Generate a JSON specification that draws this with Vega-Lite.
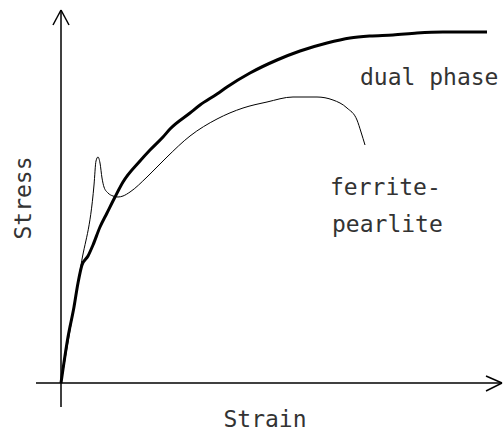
{
  "$schema": "https://vega.github.io/schema/vega-lite/v6.json",
  "width": 503,
  "height": 438,
  "padding": 0,
  "autosize": {"type": "fit", "contains": "padding"},
  "background": "white",
  "config": {"view": {"stroke": null}},
  "datasets": {
    "dual": [
      {"strain": 0, "stress": 0},
      {"strain": 7, "stress": 46},
      {"strain": 13, "stress": 76},
      {"strain": 17, "stress": 100},
      {"strain": 21, "stress": 118},
      {"strain": 27, "stress": 127},
      {"strain": 32, "stress": 138},
      {"strain": 39, "stress": 156},
      {"strain": 46, "stress": 170},
      {"strain": 54, "stress": 186},
      {"strain": 62, "stress": 201},
      {"strain": 79, "stress": 222},
      {"strain": 89, "stress": 233},
      {"strain": 102, "stress": 246},
      {"strain": 109, "stress": 254},
      {"strain": 129, "stress": 270},
      {"strain": 139, "stress": 278},
      {"strain": 156, "stress": 289},
      {"strain": 166, "stress": 296},
      {"strain": 189, "stress": 310},
      {"strain": 216, "stress": 323},
      {"strain": 239, "stress": 332},
      {"strain": 266, "stress": 340},
      {"strain": 289, "stress": 345},
      {"strain": 309, "stress": 347},
      {"strain": 332, "stress": 348},
      {"strain": 356, "stress": 350},
      {"strain": 382, "stress": 351},
      {"strain": 426, "stress": 351}
    ],
    "ferrite": [
      {"strain": 0, "stress": 0},
      {"strain": 20, "stress": 118},
      {"strain": 33, "stress": 198},
      {"strain": 35, "stress": 222},
      {"strain": 37, "stress": 226},
      {"strain": 39, "stress": 220},
      {"strain": 41, "stress": 205},
      {"strain": 43, "stress": 196},
      {"strain": 47, "stress": 190},
      {"strain": 52, "stress": 187},
      {"strain": 57, "stress": 186},
      {"strain": 62, "stress": 187},
      {"strain": 69, "stress": 191},
      {"strain": 86, "stress": 206},
      {"strain": 96, "stress": 216},
      {"strain": 106, "stress": 226},
      {"strain": 129, "stress": 247},
      {"strain": 156, "stress": 264},
      {"strain": 182, "stress": 275},
      {"strain": 206, "stress": 281},
      {"strain": 232, "stress": 286},
      {"strain": 256, "stress": 286},
      {"strain": 272, "stress": 283},
      {"strain": 286, "stress": 275},
      {"strain": 296, "stress": 263},
      {"strain": 300, "stress": 251},
      {"strain": 304, "stress": 238}
    ],
    "axes": [
      {"x": -25, "y": 0, "x2": 441, "y2": 0},
      {"x": 0, "y": 373, "x2": 0, "y2": -24},
      {"x": 0, "y": 373, "x2": -8, "y2": 358},
      {"x": 0, "y": 373, "x2": 8, "y2": 358},
      {"x": 441, "y": 0, "x2": 425, "y2": 7},
      {"x": 441, "y": 0, "x2": 425, "y2": -8}
    ],
    "labels": [
      {"label": "dual phase", "strain": 299, "stress": 305},
      {"label": "ferrite-", "strain": 269, "stress": 195},
      {"label": "pearlite", "strain": 271, "stress": 158}
    ],
    "xtitle": [{"label": "Strain", "strain": 204, "stress": -37}],
    "ytitle": [{"label": "Stress", "strain": -37, "stress": 185}]
  },
  "layer": [
    {
      "data": {"name": "axes"},
      "mark": {"type": "rule", "color": "black", "strokeWidth": 1.5},
      "encoding": {
        "x": {"field": "x", "type": "quantitative", "scale": {"domain": [-61, 442]}, "axis": null},
        "y": {"field": "y", "type": "quantitative", "scale": {"domain": [-55, 383]}, "axis": null},
        "x2": {"field": "x2"},
        "y2": {"field": "y2"}
      }
    },
    {
      "data": {"name": "ferrite"},
      "mark": {"type": "line", "color": "black", "strokeWidth": 1, "interpolate": "monotone"},
      "encoding": {
        "x": {"field": "strain", "type": "quantitative", "scale": {"domain": [-61, 442]}, "axis": null},
        "y": {"field": "stress", "type": "quantitative", "scale": {"domain": [-55, 383]}, "axis": null},
        "order": {"field": "strain"}
      }
    },
    {
      "data": {"name": "dual"},
      "mark": {"type": "line", "color": "black", "strokeWidth": 3, "interpolate": "monotone"},
      "encoding": {
        "x": {"field": "strain", "type": "quantitative", "scale": {"domain": [-61, 442]}, "axis": null},
        "y": {"field": "stress", "type": "quantitative", "scale": {"domain": [-55, 383]}, "axis": null},
        "order": {"field": "strain"}
      }
    },
    {
      "data": {"name": "labels"},
      "mark": {"type": "text", "align": "left", "baseline": "middle", "font": "DejaVu Sans Mono", "fontSize": 23, "color": "#333"},
      "encoding": {
        "x": {"field": "strain", "type": "quantitative", "scale": {"domain": [-61, 442]}, "axis": null},
        "y": {"field": "stress", "type": "quantitative", "scale": {"domain": [-55, 383]}, "axis": null},
        "text": {"field": "label"}
      }
    },
    {
      "data": {"name": "xtitle"},
      "mark": {"type": "text", "align": "center", "baseline": "middle", "font": "DejaVu Sans Mono", "fontSize": 23, "color": "#333"},
      "encoding": {
        "x": {"field": "strain", "type": "quantitative", "scale": {"domain": [-61, 442]}, "axis": null},
        "y": {"field": "stress", "type": "quantitative", "scale": {"domain": [-55, 383]}, "axis": null},
        "text": {"field": "label"}
      }
    },
    {
      "data": {"name": "ytitle"},
      "mark": {"type": "text", "align": "center", "baseline": "middle", "angle": 270, "font": "DejaVu Sans Mono", "fontSize": 23, "color": "#333"},
      "encoding": {
        "x": {"field": "strain", "type": "quantitative", "scale": {"domain": [-61, 442]}, "axis": null},
        "y": {"field": "stress", "type": "quantitative", "scale": {"domain": [-55, 383]}, "axis": null},
        "text": {"field": "label"}
      }
    }
  ]
}
